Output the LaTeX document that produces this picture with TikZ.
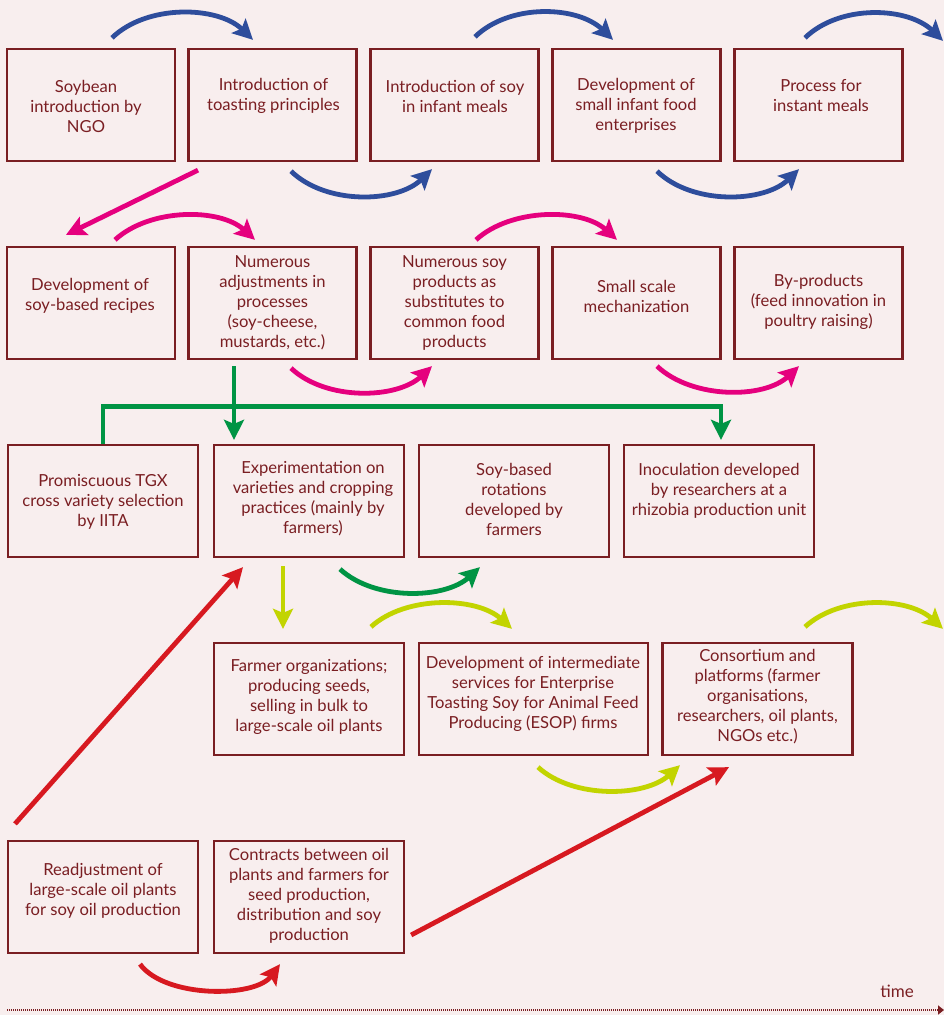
\documentclass[tikz,border=0pt]{standalone}
\usepackage{fontspec}
\setmainfont{Lato}
\usetikzlibrary{arrows.meta,calc}
\definecolor{bg}{HTML}{F8EEEE}
\definecolor{boxc}{HTML}{7A1E22}
\definecolor{txtc}{HTML}{7A1E22}
\definecolor{cblue}{HTML}{2E4D9C}
\definecolor{cpink}{HTML}{E5007E}
\definecolor{cgreen}{HTML}{009444}
\definecolor{clime}{HTML}{C2D400}
\definecolor{cred}{HTML}{D71920}
\begin{document}
\begin{tikzpicture}[x=1pt,y=-1pt,
  bx/.style={draw=boxc, line width=2.3pt, minimum height=112pt, inner sep=0pt},
  bxa/.style={bx, minimum width=168pt},
  bxb/.style={bx, minimum width=190pt},
  txt/.style={align=center, text=txtc, inner sep=0pt, font=\fontsize{16.6}{20}\selectfont},
  tip/.style={-{Stealth[length=20pt,width=20pt,inset=4pt]}},
  barr/.style={draw=cblue, line width=4.8pt, tip},
  parr/.style={draw=cpink, line width=4.8pt, tip},
  garr/.style={draw=cgreen, line width=4.8pt, tip},
  larr/.style={draw=clime, line width=4.8pt, tip},
  rarr/.style={draw=cred, line width=4.8pt, tip},
]
\fill[bg] (0,0) rectangle (944,1015);
\useasboundingbox (0,0) rectangle (944,1015);

% Row 1
\node[bxa] (b11) at (91,105) {};
\node[bxa] (b12) at (272.5,105) {};
\node[bxa] (b13) at (454.5,105) {};
\node[bxa] (b14) at (636.5,105) {};
\node[bxa] (b15) at (818.5,105) {};
\node[txt] (t11) at (86,106) {Soybean\\introduction by\\NGO};
\node[txt] (t12) at (273.5,96) {Introduction of\\toasting principles};
\node[txt] (t13) at (455,96) {Introduction of soy\\in infant meals};
\node[txt] (t14) at (636,106) {Development of\\small infant food\\enterprises};
\node[txt] (t15) at (821,96) {Process for\\instant meals};

% Row 2
\node[bxa] (b21) at (91,303) {};
\node[bxa] (b22) at (272.5,303) {};
\node[bxa] (b23) at (454.5,303) {};
\node[bxa] (b24) at (636.5,303) {};
\node[bxa] (b25) at (818.5,303) {};
\node[txt] (t21) at (90,296) {Development of\\soy-based recipes};
\node[txt] (t22) at (272.5,303) {Numerous\\adjustments in\\processes\\(soy-cheese,\\mustards, etc.)};
\node[txt] (t23) at (454.5,303) {Numerous soy\\products as\\substitutes to\\common food\\products};
\node[txt] (t24) at (636.5,296) {Small scale\\mechanization};
\node[txt] (t25) at (818.5,302) {By-products\\(feed innovation in\\poultry raising)};

% Row 3
\node[bxb] (b31) at (103,501) {};
\node[bxb] (b32) at (309,501) {};
\node[bxb] (b33) at (514,501) {};
\node[bxb] (b34) at (719,501) {};
\node[txt] (t31) at (103,502) {Promiscuous TGX\\cross variety selection\\by IITA};
\node[txt] (t32) at (313,499) {Experimentation on\\varieties and cropping\\practices (mainly by\\farmers)};
\node[txt] (t33) at (514,499) {Soy-based\\rotations\\developed by\\farmers};
\node[txt] (t34) at (719,491) {Inoculation developed\\by researchers at a\\rhizobia production unit};

% Row 4
\node[bxb] (b41) at (309,699) {};
\node[bx, minimum width=229pt] (b42) at (533.5,699) {};
\node[bxb] (b43) at (757.5,699) {};
\node[txt] (t41) at (309,697) {Farmer organizations;\\producing seeds,\\selling in bulk to\\large-scale oil plants};
\node[txt] (t42) at (533,694) {Development of intermediate\\services for Enterprise\\Toasting Soy for Animal Feed\\Producing (ESOP) firms};
\node[txt] (t43) at (757.5,697) {Consortium and\\platforms (farmer\\organisations,\\researchers, oil plants,\\NGOs etc.)};

% Row 5
\node[bxb] (b51) at (103,897) {};
\node[bxb] (b52) at (309,897) {};
\node[txt] (t51) at (103,891) {Readjustment of\\large-scale oil plants\\for soy oil production};
\node[txt] (t52) at (309,896) {Contracts between oil\\plants and farmers for\\seed production,\\distribution and soy\\production};

% Blue arcs
\draw[barr] ($(b11.north)+(21,-10)$) .. controls +(35,-34) and +(-35,-34) .. ($(b12.north)+(-19.5,-8)$);
\draw[barr] ($(b13.north)+(20.5,-11)$) .. controls +(35,-34) and +(-35,-34) .. ($(b14.north)+(-23.5,-8)$);
\draw[barr] ($(b15.north)+(-13.5,-10)$) .. controls +(35,-34) and +(-35,-34) .. ($(b15.north)+(124.5,-7)$);
\draw[barr] ($(b12.south)+(18.5,9)$) .. controls +(35,34) and +(-35,34) .. ($(b13.south)+(-22.5,7)$);
\draw[barr] ($(b14.south)+(20.5,9)$) .. controls +(35,34) and +(-35,34) .. ($(b15.south)+(-19.5,7)$);

% Pink
\draw[parr] ($(b12.south)+(-74.5,8)$) -- ($(b21.north)+(-25,-11)$);
\draw[parr] ($(b21.north)+(24,-6)$) .. controls +(35,-32) and +(-35,-32) .. ($(b22.north)+(-17.5,-6)$);
\draw[parr] ($(b23.north)+(21.5,-6)$) .. controls +(35,-32) and +(-35,-32) .. ($(b24.north)+(-19.5,-6)$);
\draw[parr] ($(b22.south)+(18.5,8)$) .. controls +(35,33) and +(-35,33) .. ($(b23.south)+(-22.5,6)$);
\draw[parr] ($(b24.south)+(20.5,6)$) .. controls +(35,33) and +(-35,33) .. ($(b25.south)+(-19.5,6)$);

% Green
\draw[garr] ($(b22.south)+(-38.5,6)$) -- ($(b32.north)+(-75,-4)$);
\draw[garr] (b31.north) -- ++(0,-37) -| ($(b34.north)+(2,-4)$);
\draw[garr] ($(b32.south)+(31,11)$) .. controls +(35,32) and +(-35,32) .. ($(b33.south)+(-34,9)$);

% Lime
\draw[larr] ($(b32.south)+(-26,8)$) -- ($(b41.north)+(-26,-13)$);
\draw[larr] ($(b41.north)+(62,-15)$) .. controls +(35,-32) and +(-35,-32) .. ($(b42.north)+(-21.5,-13)$);
\draw[larr] ($(b43.north)+(47.5,-15)$) .. controls +(35,-32) and +(-35,-32) .. ($(b43.north)+(185.5,-13)$);
\draw[larr] ($(b42.south)+(4.5,11)$) .. controls +(35,32) and +(-35,32) .. ($(b43.south)+(-77.5,9)$);

% Red
\draw[rarr] ($(b51.north)+(-88,-16)$) -- ($(b32.south)+(-66,9)$);
\draw[rarr] ($(b52.east)+(6,38)$) -- ($(b43.south)+(-28.5,11)$);
\draw[rarr] ($(b51.south)+(37,10)$) .. controls +(25,34) and +(-25,34) .. ($(b52.south)+(-29,10)$);

% Time axis
\coordinate (ta) at (7,1010);
\coordinate (tb) at (944,1010);
\draw[boxc, line width=2.4pt, dash pattern=on 1pt off 1pt, -{Triangle[length=6pt,width=9pt]}] (ta) -- (tb);
\node[txt, font=\fontsize{17}{20}\selectfont] (time) at (897,991) {time};
\end{tikzpicture}
\end{document}
